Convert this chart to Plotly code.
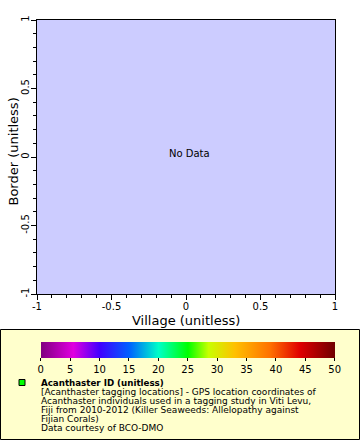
import plotly.graph_objects as go

# ---- data ----
x_ticks = [-1, -0.5, 0, 0.5, 1]
x_tick_labels = ["-1", "-0.5", "0", "0.5", "1"]
y_ticks = [-1, -0.5, 0, 0.5, 1]
y_tick_labels = ["-1", "-0.5", "0", "0.5", "1"]
cbar_ticks = [0, 5, 10, 15, 20, 25, 30, 35, 40, 45, 50]
cbar_range = [0, 50]
cbar_stops = [0.0, 0.11, 0.2, 0.3, 0.4, 0.5, 0.57, 0.66, 0.78, 0.88, 1.0]
cbar_colors = ["#800080", "#e000e0", "#4000ff", "#0060ff", "#00ffc8", "#00ff00",
               "#c8ff00", "#ffc000", "#ff7000", "#e00000", "#700000"]
x_title = "Village (unitless)"
y_title = "Border (unitless)"
legend_title = "Acanthaster ID (unitless)"
legend_lines = [
    "[Acanthaster tagging locations] - GPS location coordinates of",
    "Acanthaster individuals used in a tagging study in Viti Levu,",
    "Fiji from 2010-2012 (Killer Seaweeds: Allelopathy against",
    "Fijian Corals)",
    "Data courtesy of BCO-DMO",
]
series_x = []
series_y = []
series_v = []

# ---- layout geometry (pixels) ----
W, H = 360, 440
L, R, T, B = 37, 335, 20, 294
pw, ph = R - L, B - T

def px_x(p):
    return (p - L) / pw

def px_y(p):
    return (B - p) / ph

FONT = "DejaVu Sans"

fig = go.Figure()
fig.add_trace(go.Scatter(
    x=series_x if series_x else [None], y=series_y if series_y else [None],
    mode="markers",
    marker=dict(color=series_v if series_v else [0], coloraxis="coloraxis", size=6,
                symbol="square", line=dict(color="black", width=1)),
    showlegend=False, hoverinfo="skip",
))

fig.update_layout(
    width=W, height=H,
    margin=dict(l=L, r=W - R, t=T, b=H - B, pad=0, autoexpand=False),
    paper_bgcolor="white",
    plot_bgcolor="#ccccff",
    font=dict(family=FONT, size=10, color="black"),
    showlegend=False,
    coloraxis=dict(
        cmin=cbar_range[0], cmax=cbar_range[1],
        colorscale=[[s, c] for s, c in zip(cbar_stops, cbar_colors)],
        colorbar=dict(
            orientation="h",
            x=px_x((40.7 + 334.7) / 2), xanchor="center",
            y=px_y(342), yanchor="top",
            len=294, lenmode="pixels",
            thickness=16, thicknessmode="pixels",
            xpad=0, ypad=0,
            outlinewidth=0,
            tickmode="array", tickvals=cbar_ticks,
            ticks="outside", ticklen=3, tickcolor="black",
            tickfont=dict(family=FONT, size=10, color="black"),
            bgcolor="rgba(0,0,0,0)",
        ),
    ),
    xaxis=dict(
        range=[-1, 1], showgrid=False, zeroline=False, automargin=False,
        showline=True, linecolor="black", linewidth=1, mirror=True,
        tickmode="array", tickvals=x_ticks, ticktext=x_tick_labels,
        ticks="outside", ticklen=5, tickcolor="black", ticklabelstandoff=-2,
        minor=dict(ticks="outside", dtick=0.1, ticklen=3, tickcolor="black", showgrid=False),
        tickfont=dict(family=FONT, size=10),
    ),
    yaxis=dict(
        range=[-1, 1], showgrid=False, zeroline=False, automargin=False,
        showline=True, linecolor="black", linewidth=1, mirror=True,
        tickmode="array", tickvals=y_ticks, ticktext=y_tick_labels,
        ticks="outside", ticklen=5, tickcolor="black", tickangle=-90, ticklabelstandoff=-2,
        minor=dict(ticks="outside", dtick=0.1, ticklen=3, tickcolor="black", showgrid=False),
        tickfont=dict(family=FONT, size=10),
    ),
)

# axis titles
fig.add_annotation(text=x_title, xref="paper", yref="paper",
                   x=px_x(186), y=px_y(320), showarrow=False,
                   xanchor="center", yanchor="middle",
                   font=dict(family=FONT, size=13))
fig.add_annotation(text=y_title, xref="paper", yref="paper",
                   x=px_x(12.5), y=px_y(152), showarrow=False, textangle=-90,
                   xanchor="center", yanchor="middle",
                   font=dict(family=FONT, size=13))

# legend box
fig.add_shape(type="rect", xref="paper", yref="paper",
              x0=px_x(0.5), x1=px_x(359.5), y0=px_y(329.5), y1=px_y(439.5),
              fillcolor="#ffffcc", line=dict(color="black", width=1), layer="below")
# legend marker
fig.add_shape(type="rect", xref="paper", yref="paper",
              x0=px_x(19), x1=px_x(25), y0=px_y(379.5), y1=px_y(385.5),
              fillcolor="#00ff00", line=dict(color="black", width=1))

fig.add_annotation(text="No Data", xref="paper", yref="paper",
                   x=px_x(189.5), y=px_y(153), showarrow=False,
                   font=dict(family=FONT, size=10))

fig.add_annotation(text="<b>" + legend_title + "</b>", xref="paper", yref="paper",
                   x=px_x(40), y=px_y(382.5), xanchor="left", yanchor="middle",
                   showarrow=False, font=dict(family=FONT, size=8.7), borderpad=0)
for i, line in enumerate(legend_lines):
    fig.add_annotation(text=line, xref="paper", yref="paper",
                       x=px_x(40), y=px_y(391.5 + 9.2 * i), xanchor="left", yanchor="middle",
                       showarrow=False, font=dict(family=FONT, size=9), borderpad=0)

fig.write_html("out.html", post_script="document.body.style.margin='0';",
               config={"displayModeBar": False})
